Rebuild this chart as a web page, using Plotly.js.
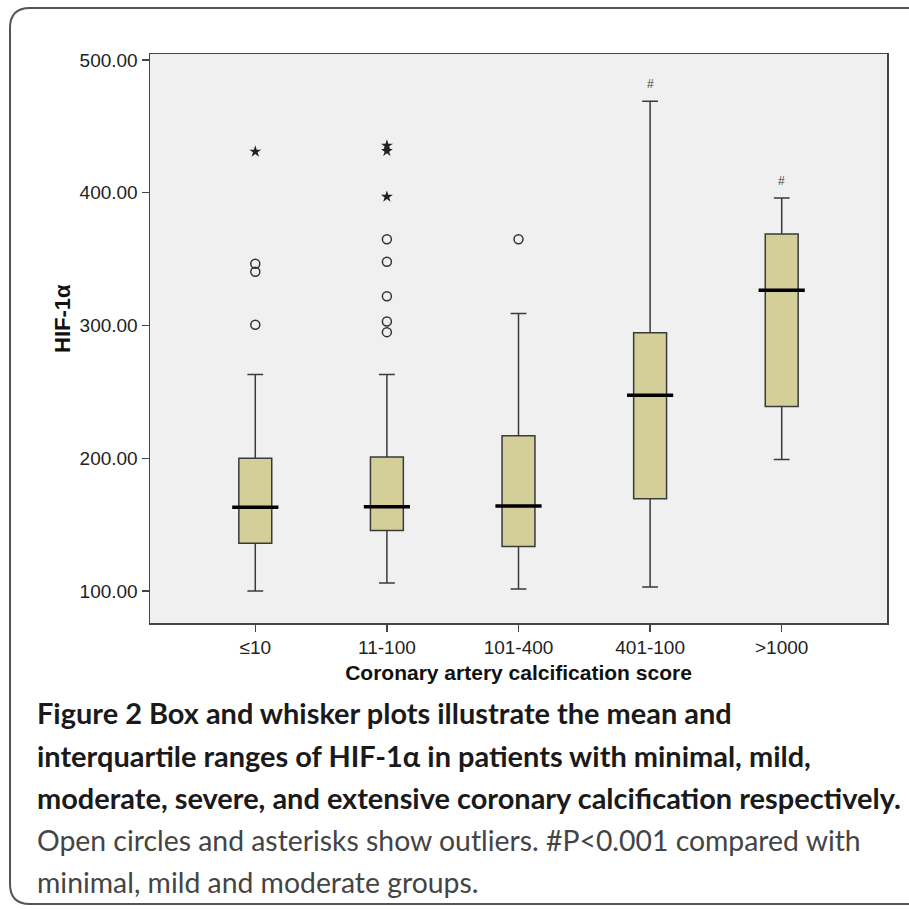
<!DOCTYPE html>
<html><head><meta charset="utf-8">
<script src="https://cdn.plot.ly/plotly-3.0.1.min.js"></script>
<style>html,body{margin:0;padding:0;background:#fff}#chart{width:909px;height:910px}</style>
</head><body><div id="chart"></div>
<script>
// ---- data ----
const categories = ['≤10', '11-100', '101-400', '401-100', '>1000'];
const lowerWhisker = [100, 106, 101.5, 103, 199];
const q1 = [136, 145.5, 133.5, 169.5, 239];
const median = [163, 163.5, 164, 247.5, 326.5];
const q3 = [200, 201, 217, 294.5, 369];
const upperWhisker = [263, 263, 309, 469, 396];

const circleGroups = ['≤10', '≤10', '≤10', '11-100', '11-100', '11-100', '11-100', '11-100', '101-400'];
const circleValues = [300.5, 340.5, 346.5, 295, 303, 322, 348, 365, 365];

const starGroups = ['≤10', '11-100', '11-100', '11-100'];
const starValues = [431, 397, 431.5, 435.5];

const hashGroups = ['401-100', '>1000'];
const hashValues = [469, 396];

const yTicks = [100, 200, 300, 400, 500];

const captionBold = [
  'Figure 2 Box and whisker plots illustrate the mean and',
  'interquartile ranges of HIF-1α in patients with minimal, mild,',
  'moderate, severe, and extensive coronary calcification respectively.'
];
const captionRegular = [
  'Open circles and asterisks show outliers. #P<0.001 compared with',
  'minimal, mild and moderate groups.'
];

// ---- layout helpers (pixel -> paper) ----
const L = 150, T = 54, W = 737, H = 569;
const px = x => (x - L) / W;
const py = y => (T + H - y) / H;

const tickFont = {family: 'Liberation Sans, Arial, sans-serif', size: 19, color: '#222'};
const capFamily = 'Lato';

// fit caption font size to the reference line widths
const ctx = document.createElement('canvas').getContext('2d');
function fitSize(text, weight, target) {
  ctx.font = weight + ' 100px ' + capFamily;
  return 100 * target / ctx.measureText(text).width;
}
const boldSize = fitSize(captionBold[2], 'bold', 865);
const regSize = fitSize(captionRegular[0], 'normal', 825);

const traces = [
  {
    type: 'box', x: categories, q1: q1, median: median, q3: q3,
    lowerfence: lowerWhisker, upperfence: upperWhisker,
    boxpoints: false, width: 0.25, whiskerwidth: 0.48,
    fillcolor: '#d4ce99', line: {color: '#3a3a3a', width: 1.5},
    hoverinfo: 'skip', showlegend: false
  },
  {
    type: 'scatter', mode: 'markers', x: categories, y: median,
    marker: {symbol: 'line-ew', size: 33, line: {color: '#000', width: 3.5}},
    hoverinfo: 'skip', showlegend: false
  },
  {
    type: 'scatter', mode: 'markers', x: circleGroups, y: circleValues,
    marker: {symbol: 'circle-open', size: 9, color: '#333', line: {color: '#333', width: 1.5}},
    hoverinfo: 'skip', showlegend: false
  },
  {
    type: 'scatter', mode: 'markers', x: starGroups, y: starValues,
    marker: {symbol: 'star', size: 9, color: '#222', line: {width: 0}},
    hoverinfo: 'skip', showlegend: false
  }
];

const annotations = [];
hashGroups.forEach((g, i) => annotations.push({
  x: g, y: hashValues[i], xref: 'x', yref: 'y', text: '#', showarrow: false,
  yshift: 17, font: {family: 'Liberation Sans, Arial', size: 12, color: '#444'}
}));
annotations.push({
  xref: 'paper', yref: 'paper', x: px(62), y: py(319), xanchor: 'center', yanchor: 'middle',
  text: 'HIF-1α', textangle: -90, showarrow: false,
  font: {family: 'Liberation Sans, Arial', size: 22, color: '#111', weight: 'bold'}
});
const lineY = [712, 755, 797, 840, 882];
captionBold.forEach((t, i) => annotations.push({
  xref: 'paper', yref: 'paper', x: px(35), y: py(lineY[i]), xanchor: 'left', yanchor: 'middle',
  text: t, showarrow: false, align: 'left',
  font: {family: capFamily, size: boldSize, color: '#1a1a1a', weight: 'bold'}
}));
captionRegular.forEach((t, i) => annotations.push({
  xref: 'paper', yref: 'paper', x: px(35), y: py(lineY[i + 3]), xanchor: 'left', yanchor: 'middle',
  text: t, showarrow: false, align: 'left',
  font: {family: capFamily, size: regSize, color: '#444'}
}));

const borderPath = 'M ' + px(930) + ' ' + py(8) + ' L ' + px(30) + ' ' + py(8) +
  ' Q ' + px(10) + ' ' + py(8) + ' ' + px(10) + ' ' + py(28) +
  ' L ' + px(10) + ' ' + py(884) +
  ' Q ' + px(10) + ' ' + py(904) + ' ' + px(30) + ' ' + py(904) +
  ' L ' + px(930) + ' ' + py(904);

const layout = {
  width: 909, height: 910,
  margin: {l: L, r: 909 - L - W, t: T, b: 910 - T - H, pad: 0},
  paper_bgcolor: '#fff', plot_bgcolor: '#f0f0f0',
  showlegend: false,
  xaxis: {
    type: 'category', range: [-0.8, 4.8], autorange: false,
    showline: true, mirror: true, linecolor: '#444', linewidth: 1.5,
    ticks: 'outside', ticklen: 7, tickcolor: '#444', tickwidth: 1.5,
    showgrid: false, zeroline: false, tickfont: tickFont, automargin: false,
    title: {text: 'Coronary artery calcification score', standoff: 8,
            font: {family: 'Liberation Sans, Arial', size: 21, color: '#111', weight: 'bold'}}
  },
  yaxis: {
    range: [75.9, 504.5], autorange: false,
    tickvals: yTicks, tickformat: '.2f',
    showline: true, mirror: true, linecolor: '#444', linewidth: 1.5,
    ticks: 'outside', ticklen: 7, tickcolor: '#444', tickwidth: 1.5,
    showgrid: false, zeroline: false, tickfont: tickFont, automargin: false
  },
  shapes: [{type: 'path', xref: 'paper', yref: 'paper', path: borderPath,
            line: {color: '#555', width: 2}, layer: 'above'}],
  annotations: annotations
};

Plotly.newPlot('chart', traces, layout, {staticPlot: true, displayModeBar: false});
</script>
</body></html>
